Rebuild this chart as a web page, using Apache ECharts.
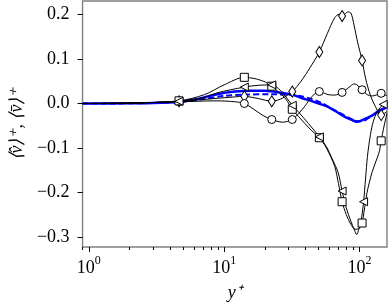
<!DOCTYPE html>
<html><head><meta charset="utf-8">
<script src="https://cdn.jsdelivr.net/npm/echarts@6/dist/echarts.min.js"></script>
<style>html,body{margin:0;padding:0;background:#fff}#c{width:390px;height:307px}</style>
</head><body><div id="c"></div>
<script>
// Axis ticks
const yTicks = [-0.3, -0.2, -0.1, 0.0, 0.1, 0.2];
const xMajorTicks = [1, 10, 100];
const xTickExponents = ['0', '1', '2'];
const xMinorTicks = [0.9, 2, 3, 4, 5, 6, 7, 8, 9, 20, 30, 40, 50, 60, 70, 80, 90];
const xRange = [0.898, 160];
const yRange = [-0.323, 0.2308];

// Curves [y+, value]
const curveDiamond = [[0.9,0],[2,0.001],[3.5,0.003],[4.64,0.005],[7,0.009],[10,0.013],[14.1,0.016],[18,0.011],[22.5,0.005],[27,0.012],[31.9,0.027],[37,0.05],[43,0.08],[50.6,0.116],[58,0.158],[65.6,0.193],[71,0.201],[74.5,0.197],[78,0.201],[82,0.206],[86.5,0.204],[91.4,0.176],[97,0.138],[104.7,0.097],[111,0.057],[120.7,0.018],[131,-0.006],[144.9,-0.026],[160,-0.018]];
const curveCircle = [[0.9,0],[2,0.001],[4.64,0.004],[8.87,0.006],[12,0.004],[14.1,0.0],[16.4,-0.012],[19.4,-0.027],[22.5,-0.036],[27,-0.042],[31.9,-0.036],[35.7,-0.022],[40,-0.004],[44,0.014],[50.6,0.027],[58.7,0.02],[65.6,0.019],[74.5,0.025],[81,0.033],[86.5,0.040],[91,0.044],[95,0.043],[104.7,0.031],[114.2,0.020],[124.2,0.017],[133,0.019],[144.9,0.023],[160,0.017]];
const curveSquare = [[0.9,0],[2,0.001],[4.64,0.006],[7.15,0.020],[10,0.042],[14.1,0.059],[16.9,0.056],[20.3,0.048],[22.5,0.039],[25,0.027],[28.6,0.01],[31.9,-0.013],[35.7,-0.03],[44,-0.06],[50.6,-0.077],[57,-0.1],[65.6,-0.141],[70,-0.18],[74.5,-0.221],[80,-0.25],[86.5,-0.272],[93,-0.283],[99,-0.282],[104.7,-0.269],[108,-0.245],[114,-0.2],[124,-0.155],[135.6,-0.122],[141,-0.106],[144.9,-0.084],[152.4,-0.05],[160,-0.022]];
const curveTriangle = [[0.9,0],[2,0.001],[4.64,0.005],[7.15,0.014],[8.87,0.024],[14.1,0.037],[17.8,0.041],[22.5,0.042],[26,0.03],[28.6,0.015],[31.9,-0.004],[35.7,-0.02],[42,-0.045],[50.6,-0.075],[57,-0.097],[63,-0.125],[69.6,-0.155],[74.5,-0.197],[80,-0.235],[86.5,-0.265],[92,-0.285],[95.5,-0.295],[99,-0.283],[104,-0.255],[107.4,-0.221],[111,-0.17],[114.7,-0.119],[120.7,-0.07],[126.8,-0.04],[135.6,-0.018],[150,-0.002],[160,0.003]];
const curveBlueSolid = [[0.9,0],[2,0.0005],[3,0.001],[4.64,0.004],[6.05,0.009],[8.87,0.021],[12,0.027],[16,0.029],[20,0.029],[27,0.024],[31.9,0.020],[37.7,0.012],[44,0.006],[50,0.0],[57,-0.006],[67.4,-0.018],[78,-0.03],[88,-0.037],[96,-0.041],[104,-0.038],[113,-0.033],[124,-0.027],[140,-0.016],[160,-0.008]];
const curveBlueDashed = [[0.9,0],[2,0.0005],[4.64,0.003],[7,0.01],[10,0.017],[14.1,0.020],[22.5,0.021],[31.9,0.019],[37.7,0.016],[44.5,0.01],[52,0.002],[62,-0.011],[74.5,-0.024],[86,-0.034],[95.5,-0.04],[105,-0.04],[120,-0.03],[140,-0.018],[160,-0.009]];

// Marker points [y+, value]
const marksDiamond = [[4.64,0.005],[14.1,0.016],[22.5,0.005],[31.9,0.027],[50.6,0.116],[74.5,0.197],[104.7,0.097],[144.9,-0.026]];
const marksCircle = [[4.64,0.004],[14.1,0.0],[22.5,-0.036],[31.9,-0.036],[50.6,0.027],[74.5,0.025],[104.7,0.031],[144.9,0.023]];
const marksSquare = [[4.64,0.006],[14.1,0.059],[22.5,0.039],[31.9,-0.013],[50.6,-0.077],[74.5,-0.221],[104.7,-0.269],[144.9,-0.084]];
const marksTriangle = [[4.64,0.005],[14.1,0.037],[22.5,0.042],[31.9,-0.004],[50.6,-0.075],[74.5,-0.197],[107.4,-0.221],[150,-0.002]];

const lg = v => Math.log10(v);
const toXY = arr => arr.map(p => [lg(p[0]), p[1]]);
const FONT = 'Liberation Serif';

function blackLine(d) {
  return {type:'line', data: toXY(d), showSymbol:false, smooth:0.3, silent:true,
    lineStyle:{color:'#000', width:1}, z:3};
}
function marks(d, symbol, size, rotate) {
  return {type:'scatter', data: toXY(d), symbol: symbol, symbolSize: size, symbolRotate: rotate || 0,
    itemStyle:{color:'#fff', borderColor:'#000', borderWidth:1, opacity:1}, z:5, silent:true};
}

const chart = echarts.init(document.getElementById('c'), null, {renderer:'canvas'});
chart.setOption({
  animation:false,
  grid:{left:76, right:3, top:1, bottom:54, show:true, borderColor:'#808080', borderWidth:1.4, backgroundColor:'transparent'},
  xAxis:[{
    type:'value', min: lg(xRange[0]), max: lg(xRange[1]),
    axisLine:{show:false, onZero:false}, splitLine:{show:false},
    axisTick:{show:true, customValues: xMajorTicks.map(lg), length:5, lineStyle:{color:'#000', width:1}},
    axisLabel:{show:true, customValues: xMajorTicks.map(lg), margin:8,
      formatter: v => '{b|10}{s|' + xTickExponents[Math.round(v)] + '}',
      rich:{
        b:{fontFamily:FONT, fontSize:18, color:'#000', lineHeight:22, verticalAlign:'bottom'},
        s:{fontFamily:FONT, fontSize:12, color:'#000', lineHeight:12, verticalAlign:'top'}
      }},
    name:'y⁺', nameLocation:'middle', nameGap:37,
    nameTextStyle:{fontFamily:FONT, fontStyle:'italic', fontSize:18, color:'#000'}
  },{
    type:'value', min: lg(xRange[0]), max: lg(xRange[1]), position:'bottom',
    axisLine:{show:false, onZero:false}, splitLine:{show:false},
    axisTick:{show:true, customValues: xMinorTicks.map(lg), length:3, lineStyle:{color:'#000', width:1}},
    axisLabel:{show:false}
  }],
  yAxis:{
    type:'value', min: yRange[0], max: yRange[1],
    axisLine:{show:false, onZero:false}, splitLine:{show:false},
    axisTick:{show:true, customValues: yTicks, length:5, lineStyle:{color:'#000', width:1}},
    axisLabel:{show:true, customValues: yTicks, margin:13,
      formatter: v => v.toFixed(1).replace('-', '\u2212'), fontFamily:FONT, fontSize:18, color:'#000'},
    name:'\u27E8v\u0302\u27E9\u207A, \u27E8v\u0304\u27E9\u207A', nameLocation:'middle', nameGap:54, nameRotate:90,
    nameTextStyle:{fontFamily:FONT, fontStyle:'italic', fontSize:18, color:'#000'}
  },
  series:[
    {type:'line', data: toXY(curveBlueDashed), showSymbol:false, smooth:0.3, silent:true,
      lineStyle:{color:'#0000ff', width:2, type:[6,3]}, z:2},
    {type:'line', data: toXY(curveBlueSolid), showSymbol:false, smooth:0.3, silent:true,
      lineStyle:{color:'#0000ff', width:2.5}, z:2},
    blackLine(curveDiamond),
    blackLine(curveCircle),
    blackLine(curveSquare),
    blackLine(curveTriangle),
    marks(marksDiamond, 'diamond', [7,11]),
    marks(marksCircle, 'circle', 8),
    marks(marksSquare, 'rect', 8),
    marks(marksTriangle, 'triangle', 8, 90)
  ]
});
</script></body></html>
